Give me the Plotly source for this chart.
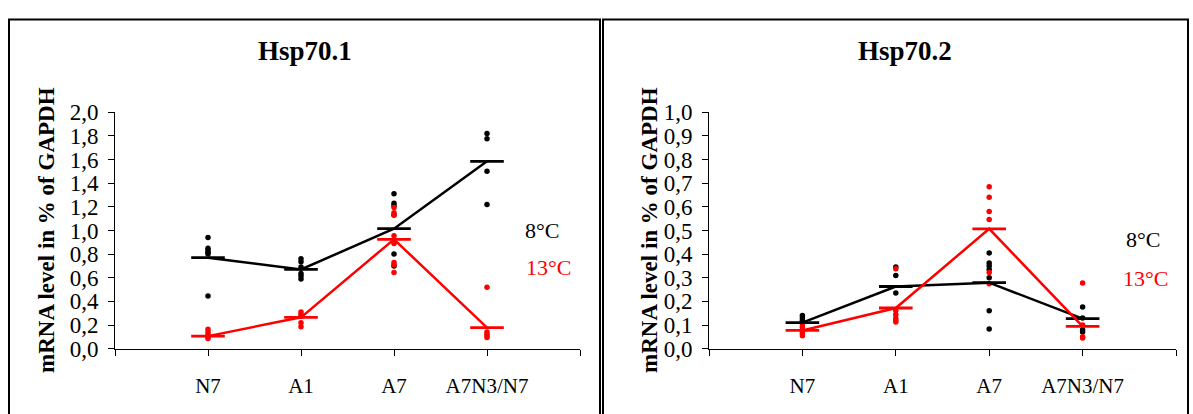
import plotly.graph_objects as go

# Sampling groups on the x axis
groups = ["N7", "A1", "A7", "A7N3/N7"]

# Hsp70.1 - individual measurements (8°C, black)
hsp1_8_n7 = [0.94, 0.85, 0.83, 0.815, 0.80, 0.445]
hsp1_8_a1 = [0.76, 0.735, 0.69, 0.635, 0.615, 0.59]
hsp1_8_a7 = [1.31, 1.23, 1.21, 1.13, 0.90, 0.80, 0.70]
hsp1_8_a7n3 = [1.82, 1.775, 1.50, 1.22]
hsp1_8_mean = [0.77, 0.67, 1.015, 1.585]

# Hsp70.1 - individual measurements (13°C, red)
hsp1_13_n7 = [0.165, 0.14, 0.12, 0.10, 0.085]
hsp1_13_a1 = [0.31, 0.29, 0.275, 0.22, 0.185]
hsp1_13_a7 = [1.195, 1.15, 1.13, 0.955, 0.89, 0.73, 0.71, 0.645]
hsp1_13_a7n3 = [0.52, 0.14, 0.125, 0.11, 0.095]
hsp1_13_mean = [0.106, 0.265, 0.925, 0.178]

# Hsp70.2 - individual measurements (8°C, black)
hsp2_8_n7 = [0.14, 0.13, 0.12, 0.11]
hsp2_8_a1 = [0.345, 0.31, 0.235]
hsp2_8_a7 = [0.405, 0.362, 0.35, 0.335, 0.30, 0.16, 0.083]
hsp2_8_a7n3 = [0.176, 0.13, 0.08, 0.07]
hsp2_8_mean = [0.11, 0.263, 0.279, 0.127]

# Hsp70.2 - individual measurements (13°C, red)
hsp2_13_n7 = [0.10, 0.09, 0.075, 0.065, 0.055]
hsp2_13_a1 = [0.338, 0.16, 0.145, 0.13, 0.12, 0.113]
hsp2_13_a7 = [0.685, 0.64, 0.58, 0.546, 0.322, 0.275]
hsp2_13_a7n3 = [0.278, 0.10, 0.05, 0.045]
hsp2_13_mean = [0.077, 0.172, 0.507, 0.094]

y_ticks_1 = [0.0, 0.2, 0.4, 0.6, 0.8, 1.0, 1.2, 1.4, 1.6, 1.8, 2.0]
y_ticks_2 = [0.0, 0.1, 0.2, 0.3, 0.4, 0.5, 0.6, 0.7, 0.8, 0.9, 1.0]

BLACK = "#000000"
RED = "#FF0000"
SERIF = "Liberation Serif, Times New Roman, serif"
W, H = 1193, 414


def flatten(per_group):
    xs, ys = [], []
    for i, vals in enumerate(per_group, start=1):
        xs += [i] * len(vals)
        ys += vals
    return xs, ys


fig = go.Figure()


def add_panel(xa, ya, per_black, mean_black, per_red, mean_red):
    for per_group, color in ((per_black, BLACK), (per_red, RED)):
        xs, ys = flatten(per_group)
        fig.add_trace(go.Scatter(
            x=xs, y=ys, mode="markers", xaxis=xa, yaxis=ya,
            marker=dict(color=color, size=5.5), showlegend=False, hoverinfo="y"))
    for mean, color in ((mean_black, BLACK), (mean_red, RED)):
        fig.add_trace(go.Scatter(
            x=[1, 2, 3, 4], y=mean, mode="lines+markers", xaxis=xa, yaxis=ya,
            line=dict(color=color, width=2.5),
            marker=dict(symbol="line-ew", size=24, line=dict(color=color, width=2.8)),
            showlegend=False, hoverinfo="y"))


add_panel("x", "y",
          [hsp1_8_n7, hsp1_8_a1, hsp1_8_a7, hsp1_8_a7n3], hsp1_8_mean,
          [hsp1_13_n7, hsp1_13_a1, hsp1_13_a7, hsp1_13_a7n3], hsp1_13_mean)
add_panel("x2", "y2",
          [hsp2_8_n7, hsp2_8_a1, hsp2_8_a7, hsp2_8_a7n3], hsp2_8_mean,
          [hsp2_13_n7, hsp2_13_a1, hsp2_13_a7, hsp2_13_a7n3], hsp2_13_mean)

y_bottom = 1 - 358.3 / H
y_top = 1 - 106.7 / H

xaxis_common = dict(
    range=[0, 5], tickvals=[0, 1, 2, 3, 4, 5], ticktext=[""] + groups + [""],
    showgrid=False, zeroline=False, showline=True, linecolor=BLACK, linewidth=1,
    ticks="outside", ticklen=6, tickcolor=BLACK, tickwidth=1,
    tickfont=dict(family=SERIF, size=21, color=BLACK), ticklabelstandoff=12,
    fixedrange=True,
)
yaxis_common = dict(
    showgrid=False, zeroline=False, showline=True, linecolor=BLACK, linewidth=1,
    ticks="outside", ticklen=6, tickcolor=BLACK, tickwidth=1, tickformat=".1f",
    tickfont=dict(family=SERIF, size=23, color=BLACK), ticklabelstandoff=5,
    domain=[y_bottom, y_top], fixedrange=True,
)

fig.update_layout(
    width=W, height=H, margin=dict(l=0, r=0, t=0, b=0),
    paper_bgcolor="white", plot_bgcolor="white", separators=",.",
    xaxis=dict(domain=[115 / W, 580 / W], anchor="y", **xaxis_common),
    yaxis=dict(range=[0, 2], tickvals=y_ticks_1, anchor="x", **yaxis_common),
    xaxis2=dict(domain=[709 / W, 1176 / W], anchor="y2", **xaxis_common),
    yaxis2=dict(range=[0, 1], tickvals=y_ticks_2, anchor="x2", **yaxis_common),
)

# Panel frames
for x0, x1 in ((9, 600), (603, 1188)):
    fig.add_shape(type="rect", xref="paper", yref="paper",
                  x0=x0 / W, x1=x1 / W, y0=-0.1, y1=1 - 8 / H,
                  line=dict(color=BLACK, width=2), fillcolor="rgba(0,0,0,0)", layer="below")


def px(x, y):
    return x / W, 1 - y / H


annotations = [
    ("<b>Hsp70.1</b>", 305, 41, 27, BLACK, 0),
    ("<b>Hsp70.2</b>", 905, 41, 27, BLACK, 0),
    ("<b>mRNA level in % of GAPDH</b>", 47, 232, 23, BLACK, -90),
    ("<b>mRNA level in % of GAPDH</b>", 650, 232, 23, BLACK, -90),
    ("8°C", 542, 233, 22, BLACK, 0),
    ("13°C", 548, 272, 22, RED, 0),
    ("8°C", 1143, 242, 22, BLACK, 0),
    ("13°C", 1145, 284, 22, RED, 0),
]
for text, x, y, size, color, angle in annotations:
    ax, ay = px(x, y)
    fig.add_annotation(text=text, x=ax, y=ay, xref="paper", yref="paper",
                       xanchor="center", yanchor="middle", showarrow=False,
                       textangle=angle, font=dict(family=SERIF, size=size, color=color))

fig.write_html("out.html")
